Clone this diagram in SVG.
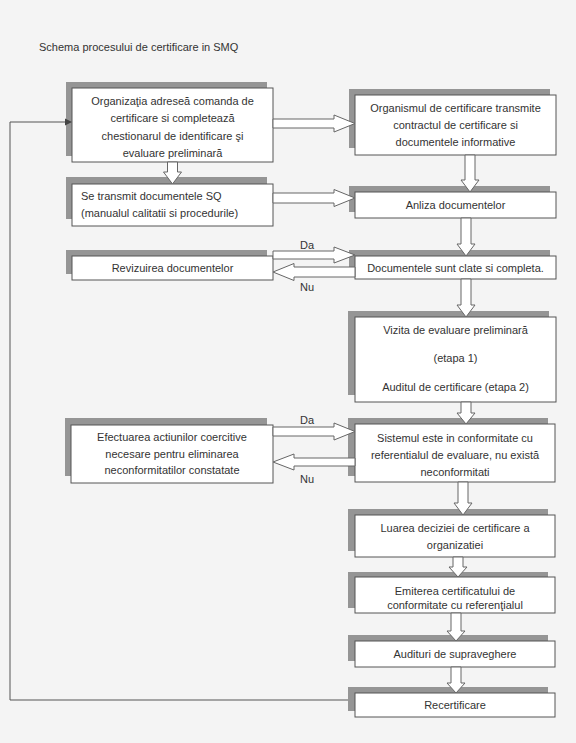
<svg xmlns="http://www.w3.org/2000/svg" width="576" height="743" viewBox="0 0 576 743">
<style>
.bg{fill:#f4f4f4}
.sh{fill:#959595}
.bx{fill:#ffffff;stroke:#555555;stroke-width:1}
.t{font-family:"Liberation Sans",Arial,sans-serif;font-size:11px;fill:#333333}
.c{text-anchor:middle}
.ar{fill:#ffffff;stroke:#666666;stroke-width:1;stroke-linejoin:miter}
.ln{fill:none;stroke:#555555;stroke-width:1}
</style>
<rect class="bg" x="0" y="0" width="576" height="743"/>
<text class="t" x="39" y="51">Schema procesului de certificare in SMQ</text>

<g id="n1">
<rect class="sh" x="66" y="82" width="201" height="74"/>
<rect class="bx" x="72" y="88" width="201" height="74"/>
<text class="t c" x="172.5" y="105">Organizaţia adreseă comanda de</text>
<text class="t c" x="172.5" y="122">certificare si completează</text>
<text class="t c" x="172.5" y="140">chestionarul de identificare şi</text>
<text class="t c" x="172.5" y="157">evaluare preliminară</text>
</g>
<g id="n2">
<rect class="sh" x="349" y="89" width="201" height="59"/>
<rect class="bx" x="355" y="95" width="201" height="60"/>
<text class="t c" x="455.5" y="112">Organismul de certificare transmite</text>
<text class="t c" x="455.5" y="129">contractul de certificare si</text>
<text class="t c" x="455.5" y="146">documentele informative</text>
</g>
<g id="n3">
<rect class="sh" x="66" y="177" width="201" height="42"/>
<rect class="bx" x="72" y="184" width="201" height="42"/>
<text class="t" x="81" y="200">Se transmit documentele SQ</text>
<text class="t" x="81" y="217">(manualul calitatii si procedurile)</text>
</g>
<g id="n4">
<rect class="sh" x="349" y="186" width="201" height="26"/>
<rect class="bx" x="355" y="192" width="201" height="26"/>
<text class="t c" x="455.5" y="209">Anliza documentelor</text>
</g>
<g id="n5">
<rect class="sh" x="66" y="250" width="201" height="24"/>
<rect class="bx" x="72" y="256" width="201" height="24"/>
<text class="t c" x="172.5" y="272">Revizuirea documentelor</text>
</g>
<g id="n6">
<rect class="sh" x="349" y="250" width="201" height="23"/>
<rect class="bx" x="355" y="256" width="201" height="23"/>
<text class="t c" x="455.5" y="272">Documentele sunt clate si completa.</text>
</g>
<g id="n7">
<rect class="sh" x="348" y="311" width="201" height="84"/>
<rect class="bx" x="355" y="317" width="201" height="85"/>
<text class="t c" x="455.5" y="334">Vizita de evaluare preliminară</text>
<text class="t c" x="455.5" y="362">(etapa 1)</text>
<text class="t c" x="455.5" y="391">Auditul de certificare (etapa 2)</text>
</g>
<g id="n8">
<rect class="sh" x="65" y="418" width="202" height="58"/>
<rect class="bx" x="71" y="425" width="202" height="58"/>
<text class="t c" x="172" y="441">Efectuarea actiunilor coercitive</text>
<text class="t c" x="172" y="458">necesare pentru eliminarea</text>
<text class="t c" x="172" y="474">neconformitatilor constatate</text>
</g>
<g id="n9">
<rect class="sh" x="348" y="418" width="200" height="58"/>
<rect class="bx" x="355" y="424" width="200" height="58"/>
<text class="t c" x="455" y="442">Sistemul este in conformitate cu</text>
<text class="t c" x="455" y="459">referentialul de evaluare, nu există</text>
<text class="t c" x="455" y="476">neconformitati</text>
</g>
<g id="n10">
<rect class="sh" x="348" y="509" width="200" height="42"/>
<rect class="bx" x="355" y="515" width="200" height="42"/>
<text class="t c" x="455" y="532">Luarea deciziei de certificare a</text>
<text class="t c" x="455" y="549">organizatiei</text>
</g>
<g id="n11">
<rect class="sh" x="348" y="572" width="200" height="36"/>
<rect class="bx" x="355" y="577" width="200" height="36"/>
<text class="t c" x="455" y="595">Emiterea certificatului de</text>
<text class="t c" x="455" y="609">conformitate cu referenţialul</text>
</g>
<g id="n12">
<rect class="sh" x="348" y="635" width="200" height="26"/>
<rect class="bx" x="355" y="641" width="200" height="26"/>
<text class="t c" x="455" y="658">Audituri de supraveghere</text>
</g>
<g id="n13">
<rect class="sh" x="348" y="687" width="200" height="24"/>
<rect class="bx" x="355" y="693" width="200" height="24"/>
<text class="t c" x="455" y="709">Recertificare</text>
</g>

<g id="connectors">
<!-- horizontal hollow arrows -->
<path class="ar" d="M273 119 L334 119 L334 115 L355 123.5 L334 132 L334 128 L273 128 Z"/>
<path class="ar" d="M273 193 L334 193 L334 189.5 L355 198 L334 206.5 L334 203 L273 203 Z"/>
<path class="ar" d="M273 251 L334 251 L334 247 L355 255 L334 263 L334 259 L273 259 Z"/>
<path class="ar" d="M355 267 L294 267 L294 263.5 L273 272 L294 280.5 L294 277 L355 277 Z"/>
<path class="ar" d="M273 427 L334 427 L334 423 L355 431.5 L334 440 L334 436 L273 436 Z"/>
<path class="ar" d="M355 458 L294 458 L294 454 L273 462 L294 470 L294 466 L355 466 Z"/>
<!-- vertical hollow arrows -->
<path class="ar" d="M167.5 162 L167.5 172 L163.5 172 L172.5 184 L181.5 172 L177.5 172 L177.5 162 Z"/>
<path class="ar" d="M465 155 L465 180 L461 180 L470 192 L479 180 L475 180 L475 155 Z"/>
<path class="ar" d="M461 218 L461 244 L457 244 L466 256 L475 244 L471 244 L471 218 Z"/>
<path class="ar" d="M461 279 L461 305 L457 305 L466 317 L475 305 L471 305 L471 279 Z"/>
<path class="ar" d="M461 402 L461 413 L457 413 L466 424 L475 413 L471 413 L471 402 Z"/>
<path class="ar" d="M458 482 L458 503 L454 503 L463 515 L472 503 L468 503 L468 482 Z"/>
<path class="ar" d="M453 557 L453 567 L449 567 L458 577 L467 567 L463 567 L463 557 Z"/>
<path class="ar" d="M451 613 L451 631 L447 631 L456 641 L465 631 L461 631 L461 613 Z"/>
<path class="ar" d="M451 667 L451 683 L447 683 L456 693 L465 683 L461 683 L461 667 Z"/>
<!-- feedback line -->
<path class="ln" d="M348 700 L10 700 L10 122 L66 122"/>
<path d="M72 122 L65 118.5 L65 125.5 Z" fill="#444444"/>
<!-- labels -->
<text class="t" x="300" y="249">Da</text>
<text class="t" x="300" y="291">Nu</text>
<text class="t" x="300" y="424">Da</text>
<text class="t" x="300" y="483">Nu</text>
</g>
</svg>
